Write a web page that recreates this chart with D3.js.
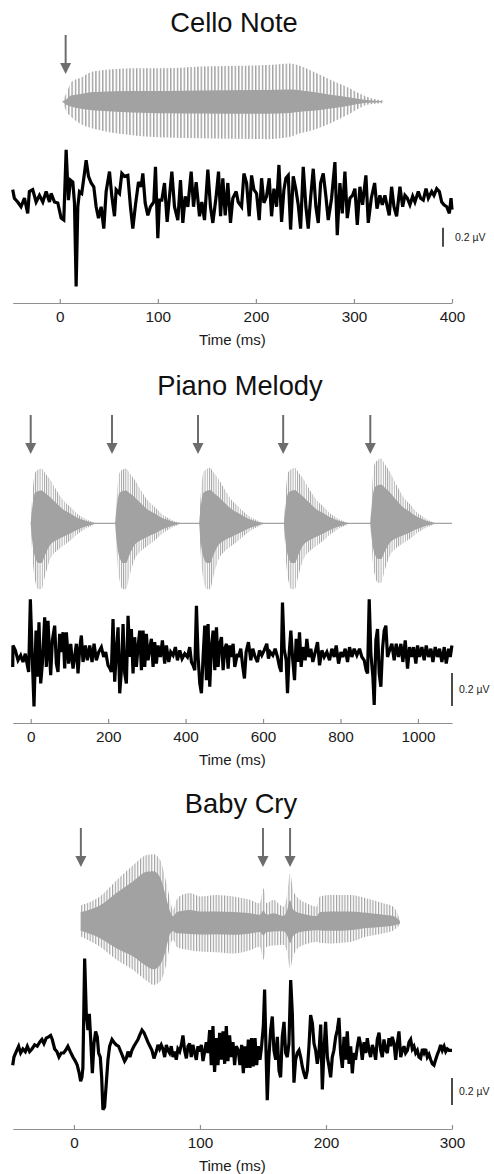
<!DOCTYPE html>
<html>
<head>
<meta charset="utf-8">
<script src="https://cdn.jsdelivr.net/npm/d3@7"></script>
<style>
  body { margin: 0; background: #fff; }
  svg { display: block; font-family: "Liberation Sans", Arial, sans-serif; }
</style>
</head>
<body>
<svg id="chart" width="494" height="1174"></svg>
<script>
// ---------- Cello note ----------
// EEG response: [time ms, amplitude µV]
const celloEeg = [
  [-48,0.13],[-46.3,0.04],[-42.9,0],[-39.5,-0.05],[-36,0.04],[-32.7,-0.12],[-31,0.11],[-27.6,0.13],
  [-24.1,0],[-20.7,0.07],[-17.3,0],[-13.9,0.11],[-10.5,0],[-8.8,0.09],[-5.4,0],[-2,-0.01],
  [1.4,-0.17],[4.1,-0.19],[6.5,0.55],[8.8,0.02],[10.9,0.23],[13.3,0.21],[15,-0.01],[16.7,-0.89],
  [18.4,-0.05],[20.1,0.11],[22.4,0.09],[24.5,0.25],[26.9,0.44],[29.3,0.27],[32,0.2],[34.7,0.16],
  [37.1,-0.05],[39.5,-0.17],[42.2,-0.05],[44.9,-0.28],[47.3,0.11],[50.7,0.32],[53.1,0.06],[55.8,-0.15],
  [57.5,0.13],[60.9,0.09],[63.3,0.3],[66,0.27],[69.4,0.28],[72.1,-0.05],[74.5,-0.28],[77.2,-0.03],
  [80.3,0.21],[83,0.16],[84.7,0.3],[87.1,-0.01],[89.8,-0.14],[92.5,-0.05],[95.9,0],[97.6,0.37],
  [100,-0.38],[101.7,0.02],[104.1,0.02],[106.8,0.2],[109.5,-0.21],[111.9,0.06],[114.3,0.32],[117,-0.05],
  [120.4,-0.19],[123.1,0.23],[125.5,-0.22],[127.9,0.06],[130.6,-0.05],[134,0.32],[136.4,-0.05],[139.1,0.21],
  [142.5,-0.15],[144.9,0],[147.6,-0.19],[151,0.34],[153.7,-0.05],[156.1,-0.22],[159.5,0.06],[161.9,0.32],
  [164,-0.15],[166.3,0.25],[168.7,-0.14],[171.4,0.2],[174.1,-0.22],[176.5,0.04],[179.9,0.11],[182,0],
  [185.4,-0.05],[187.8,0.3],[190.5,0.2],[193.2,-0.15],[195.6,0.28],[198,0.13],[200.7,0.09],[203.4,-0.19],
  [205.8,0.25],[208.2,-0.01],[210.9,0.06],[213.6,0.25],[216,-0.15],[218.4,0.14],[221.1,-0.05],[223.5,0.39],
  [226.2,-0.21],[228.6,0.13],[230.6,0.25],[233,0.28],[235.4,-0.29],[238.1,0.27],[240.8,0.13],[243.2,-0.03],
  [245.6,-0.28],[248.3,0.37],[251,-0.05],[253.4,-0.28],[255.8,0.04],[258.5,0.35],[261.2,-0.05],[263.6,-0.22],
  [266,0.2],[268.7,0.3],[271.4,0.06],[273.8,-0.19],[277.2,0.04],[280.6,0.42],[283,-0.35],[285.7,0.2],
  [288.1,-0.12],[290.8,0.32],[293.2,-0.17],[295.9,0.04],[298.6,0.07],[301,0.14],[303.4,-0.24],[306.1,0.16],
  [308.8,-0.03],[312.2,0.28],[314.6,-0.22],[317.7,0.04],[321.1,0.2],[323.5,-0.07],[326.5,0.07],[328.9,-0.03],
  [331.6,0.07],[334,-0.05],[336,-0.14],[338.4,0.16],[340.8,-0.05],[343.5,-0.15],[346.9,0.16],[349.7,-0.05],
  [352,0.07],[354.4,0.04],[357.1,-0.03],[359.9,0.06],[362.2,0],[365.6,0.11],[368,0.04],[370.7,0.02],
  [373.5,0.14],[375.9,0.04],[379.3,0.11],[381.6,0.07],[384.4,0.14],[387.1,0.11],[389.5,0],[391.8,-0.03],
  [394.6,-0.05],[397.3,-0.12],[399,0.04],[400,-0.08]
];
// Sound envelope: [time ms, upper peak, lower peak] (normalised amplitude)
const celloEnvelope = [
  [3,0.03,-0.03],[7,0.22,-0.26],[12,0.51,-0.4],[20,0.6,-0.55],[33,0.77,-0.68],[41,0.8,-0.73],
  [74,0.86,-0.86],[92,0.86,-0.9],[109,0.86,-0.92],[143,0.9,-0.94],[211,0.94,-0.96],[235,0.98,-0.9],
  [245,0.92,-0.81],[255,0.81,-0.75],[276,0.56,-0.55],[296,0.34,-0.3],[309,0.17,-0.12],[313,0.13,-0.08],
  [329,0.04,-0.04]
];
const celloArrows = [6];
const celloTicks = [0, 100, 200, 300, 400];

// ---------- Piano melody ----------
const pianoEeg = [
  [-46.5,-0.06],[-45.7,0.07],[-39.7,0.04],[-32.8,-0.02],[-25.9,0.01],[-19.9,-0.03],[-13.9,0.02],[-8.7,-0.05],
  [-5.3,-0.09],[-0.9,0.35],[3.4,0.04],[8.5,-0.3],[13.7,0.16],[17.1,-0.12],[21.4,0.21],[25.8,-0.16],
  [30.1,-0.04],[36.1,0.24],[40.4,-0.06],[44.7,0.22],[49,0],[51.6,-0.11],[55.9,0.1],[61.9,0.19],
  [66.2,-0.04],[70.5,-0.09],[74.8,0.14],[79.1,0.03],[83.5,0.15],[87.8,-0.07],[92.1,0.15],[98.1,-0.04],
  [103.3,0.08],[109.3,-0.07],[113.6,0],[117.9,0.08],[122.2,-0.1],[126.5,0.05],[130.8,0.13],[135.1,-0.03],
  [141.1,0.07],[146.3,-0.02],[152.4,0.07],[158.4,-0.03],[163.6,0.08],[169.6,-0.02],[175.6,0.03],[182.5,0.06],
  [188.5,0],[193.7,0.03],[199.7,-0.05],[204.9,-0.07],[208.3,-0.09],[212.6,0.23],[216.9,-0.15],[221.3,0.04],
  [225.6,0.18],[229.9,-0.22],[234.2,-0.08],[238.5,0.2],[242.8,-0.1],[247.1,-0.16],[251.4,0.25],[255.7,0],
  [260,0.17],[264.3,-0.1],[268.6,0.12],[272.9,-0.06],[277.2,0.06],[281.6,0.16],[285.9,-0.08],[290.2,0.16],
  [294.5,-0.06],[298.8,0.14],[303.1,-0.02],[307.4,0.05],[311.7,0.11],[316,-0.06],[320.3,0.09],[324.6,-0.04],
  [328.9,0.07],[334.9,0],[340.1,0.1],[346.1,-0.04],[350.4,0.07],[356.5,-0.03],[361.6,0.03],[367.7,0.01],
  [373.7,0.06],[378.9,-0.02],[384.9,0.04],[390.9,-0.01],[397.8,0.02],[404.7,0],[410.7,0.06],[415.1,-0.03],
  [419.4,-0.05],[423.7,-0.08],[428,0.31],[432.3,0],[436.6,-0.16],[440.9,-0.22],[445.2,0],[449.5,0.19],
  [453.8,-0.14],[458.1,0.2],[462.4,-0.18],[466.7,0.06],[471.1,0.16],[475.4,-0.08],[479.7,0.18],[484,-0.06],
  [488.3,0.08],[492.6,0.12],[496.9,-0.08],[501.2,0.05],[505.5,0.08],[509.8,-0.07],[514.1,0.07],[518.4,0],
  [522.7,0.08],[527,-0.06],[533.9,0.02],[536.6,0],[542.5,0.05],[547.7,-0.06],[552,-0.13],[556.3,0.03],
  [562.3,0.09],[568.4,-0.02],[573.5,0.05],[579.6,0],[585.6,-0.03],[590.8,0.04],[596.8,0.01],[602.8,0.04],
  [609.7,0.08],[614,-0.01],[618.3,0.03],[625.2,0.01],[631.3,0.05],[637.3,0],[642.5,-0.06],[646.8,-0.09],
  [650.2,0.33],[654.5,0.05],[659.7,-0.02],[663.2,-0.22],[667.5,0.02],[671.8,0.16],[676.1,0],[681.3,-0.14],
  [685.6,0.11],[689.9,-0.03],[694.2,0.15],[698.5,-0.06],[702.8,0.06],[708.8,-0.02],[713.1,0.11],[718.3,0],
  [723.5,0.05],[728.6,-0.03],[734.7,0.03],[740.7,0.09],[745.9,-0.05],[751.9,0.04],[757.9,0],[764.8,0.03],
  [771.7,-0.02],[777.7,0.05],[783.8,0],[788.9,0.07],[795,-0.04],[801,0.03],[806.2,0],[812.2,0.05],
  [818.2,-0.03],[823.4,0.06],[829.4,0],[835.4,0.05],[842.3,0.01],[849.2,0.05],[855.2,0],[861.3,-0.02],
  [866.4,-0.08],[869.9,-0.1],[874.2,0.35],[878.5,0.02],[883.7,-0.12],[887.1,-0.29],[891.4,0.1],[895.7,0.17],
  [900,-0.1],[904.3,-0.18],[908.6,0.05],[912.9,0.16],[917.2,0.19],[921.5,0],[926.7,0.04],[932.7,0.08],
  [938.7,-0.02],[943.9,0.08],[949.9,0],[956,0.08],[961.1,-0.03],[967.2,0.1],[973.2,-0.07],[978.4,0.06],
  [984.4,0],[988.7,0.06],[994.7,-0.04],[999,0.07],[1004.2,0],[1010.2,0.06],[1016.2,-0.02],[1021.4,0.07],
  [1027.5,0],[1033.5,0.05],[1038.7,-0.03],[1044.7,0.06],[1050.7,0],[1055.9,0.05],[1061.9,-0.03],[1068,0.06],
  [1073.1,-0.04],[1079.2,0.05],[1083.5,0],[1087.8,0.07]
];
// Decay shape of one note: [ms after onset, upper, lower] (normalised to 1)
const pianoNoteShape = [
  [0,0,0],[4,0.48,-0.45],[11,0.92,-0.85],[20,0.98,-1],[28,1,-1],[37,0.92,-0.8],[50,0.8,-0.55],
  [67,0.6,-0.42],[84,0.42,-0.34],[102,0.3,-0.26],[119,0.18,-0.17],[136,0.1,-0.1],[153,0.04,-0.05],[170,0,0]
];
const pianoNoteOnsets = [0, 218, 435, 654, 877];
const pianoNoteUpper = [0.83, 0.83, 0.84, 0.84, 0.98];
const pianoNoteLower = [1, 1, 1, 1, 0.9];
const pianoArrows = [0, 210, 432, 652, 877];
const pianoTicks = [0, 200, 400, 600, 800, 1000];

// ---------- Baby cry ----------
const babyEeg = [
  [-48.6,-0.09],[-47.6,-0.03],[-45.8,0.01],[-43.9,0.05],[-42.3,0],[-40.5,0.03],[-38.6,0.01],[-37,0.05],
  [-35.2,0.01],[-33.3,0.03],[-31.2,0.06],[-29.1,0.05],[-27.2,0.08],[-25.4,0.1],[-23.8,0.07],[-22,0.11],
  [-20.1,0.12],[-18.5,0.13],[-17.2,0.1],[-15.3,0.03],[-13.5,0.01],[-11.9,-0.03],[-10.1,0],[-8.2,0],
  [-6.6,0.02],[-4.8,0.05],[-2.9,0.01],[-0.8,-0.03],[1.1,-0.06],[2.6,-0.09],[4.2,-0.15],[5.3,-0.21],
  [6.3,-0.18],[7.1,-0.11],[8.5,0.7],[9.8,0.29],[11.1,0.17],[12.2,0.29],[13.2,0.12],[14.6,-0.15],
  [15.9,0.07],[17.2,0.16],[18.5,0.12],[19.6,0],[20.9,-0.03],[22,-0.18],[23,-0.42],[24.3,-0.4],
  [25.7,-0.22],[27,-0.05],[28.3,0.05],[30.2,0.1],[31.7,0.08],[33.6,0.06],[35.4,0.05],[37.6,0],
  [38.9,-0.03],[40.2,-0.06],[41.5,-0.04],[42.9,0.01],[44.4,-0.03],[46,0.02],[47.6,0.05],[49.5,0.08],
  [50.8,0.1],[52.1,0.13],[54,0.17],[55.6,0.15],[57.4,0.11],[58.7,0.08],[60.3,0.05],[61.9,0.02],
  [63.5,-0.04],[65.3,0.01],[66.7,0.06],[68,0.03],[69.3,0.06],[70.6,0.03],[72,-0.03],[73.3,0.06],
  [74.6,0.02],[75.9,0],[77.2,0.05],[78.6,-0.03],[79.9,0.01],[81.2,-0.05],[82.5,0.03],[83.9,0.01],
  [85.2,0.06],[86.5,0.13],[87.8,0.02],[89.2,-0.04],[90.5,0.05],[91.8,0.07],[93.1,-0.03],[94.4,0.06],
  [95.8,0],[97.1,-0.05],[98.4,0.05],[99.7,0.01],[101.1,0.06],[102.4,-0.06],[103.7,0.01],[105,0.08],
  [106.3,0],[107.7,0.17],[109,-0.09],[110.3,0.2],[111.6,-0.14],[113,0.11],[114.3,-0.09],[115.6,0.15],
  [116.9,-0.05],[118.3,0.16],[119.6,-0.08],[120.9,0.2],[122.2,-0.06],[123.5,0.13],[124.9,-0.03],[126.2,0.08],
  [127.5,-0.09],[128.8,0.05],[130.4,0.02],[131.7,-0.09],[133.1,0.06],[134.4,-0.15],[135.7,0.05],[137,-0.11],
  [138.4,0.1],[139.7,-0.11],[141,0.11],[142.3,-0.1],[143.7,0.11],[145,-0.09],[146.3,0.05],[147.6,-0.05],
  [148.9,0.05],[150.3,0.2],[151.3,0.47],[152.4,0.02],[153.4,-0.35],[154.7,-0.03],[156.1,0.17],[157.4,0.27],
  [158.7,0.02],[160.1,-0.05],[161.4,0.12],[162.7,-0.13],[164,-0.18],[165.3,0.12],[166.7,0.23],[168,0],
  [169.3,-0.03],[170.6,0.07],[172,0.54],[173.3,0.29],[174.6,-0.22],[175.9,-0.05],[177.2,0],[178.6,0.02],
  [179.9,-0.03],[181.2,-0.1],[182.5,-0.15],[183.9,-0.19],[185.2,-0.13],[186.5,0.05],[187.8,0.28],[189.2,0.22],
  [190.5,0.07],[191.8,0.02],[193.1,-0.08],[194.4,0],[195.8,0.21],[197.1,-0.27],[198.4,0.02],[199.7,0.23],
  [201.1,-0.03],[202.4,-0.1],[203.7,-0.18],[205,-0.03],[206.3,0.02],[207.7,0.12],[209,0.17],[210.3,0.26],
  [211.6,0],[213,-0.11],[214.3,0.12],[215.6,-0.05],[216.9,0.16],[218.3,-0.08],[219.6,0.05],[220.9,-0.15],
  [222.2,0],[223.5,-0.05],[224.9,0.05],[226.2,0.12],[227.5,0.06],[228.8,-0.05],[230.2,0.08],[231.5,0],
  [232.8,0.11],[234.1,0.02],[235.4,-0.03],[236.8,0.06],[238.1,0.02],[239.4,-0.05],[240.7,0.1],[242.1,0.15],
  [243.4,0.02],[244.7,-0.03],[246,0.1],[247.4,0.02],[248.7,0],[250,0.11],[251.3,0.05],[252.6,0.12],
  [254,0.07],[255.3,-0.05],[256.6,0.07],[257.9,0.16],[259.3,-0.03],[260.6,0.02],[261.9,0.05],[263.2,0],
  [264.6,0.02],[265.9,0.08],[267.2,0.1],[268.5,0.03],[269.8,0.05],[271.2,0],[272.5,0.02],[273.8,-0.03],
  [275.1,-0.04],[276.5,0.03],[277.8,0],[279.1,0.03],[280.4,-0.03],[281.7,-0.01],[283.1,-0.05],[284.4,-0.08],
  [285.7,-0.09],[287,-0.05],[288.4,-0.01],[289.7,0.02],[291,0.06],[292.3,0.02],[293.7,0.05],[295,0.01],
  [296.3,0.03],[297.6,0.02],[298.9,0.02],[300,0.02]
];
// [time ms, upper peak, lower peak, solid-core fraction]
const babyEnvelope = [
  [5.3,0.25,-0.21,0.6],[20.6,0.38,-0.36,0.65],[33.9,0.62,-0.55,0.7],[47,0.84,-0.7,0.72],[57.7,0.99,-0.86,0.75],
  [63,1,-0.92,0.75],[68.3,0.92,-0.87,0.72],[72.2,0.67,-0.7,0.65],[74.9,0.45,-0.46,0.55],[76.2,0.33,-0.34,0.5],
  [78.8,0.18,-0.26,0.5],[81.5,0.33,-0.36,0.45],[85.5,0.4,-0.39,0.42],[92,0.43,-0.41,0.42],[100,0.38,-0.43,0.42],
  [113.2,0.4,-0.44,0.4],[126.5,0.38,-0.46,0.4],[139.7,0.33,-0.41,0.4],[147.6,0.28,-0.36,0.4],[150.3,0.5,-0.55,0.35],
  [152.9,0.28,-0.36,0.4],[158.2,0.33,-0.34,0.4],[166.1,0.23,-0.33,0.4],[169.3,0.41,-0.45,0.45],[171.4,0.72,-0.68,0.45],
  [174,0.47,-0.5,0.4],[176.7,0.38,-0.4,0.4],[179.4,0.33,-0.36,0.4],[184.7,0.28,-0.32,0.4],[192.6,0.23,-0.29,0.4],
  [195.2,0.38,-0.3,0.4],[203.2,0.4,-0.31,0.4],[219,0.4,-0.29,0.4],[232.3,0.35,-0.21,0.4],[245.5,0.28,-0.16,0.4],
  [253.4,0.23,-0.12,0.4],[258.7,0.04,-0.04,0.5]
];
const babyArrows = [5.5, 150, 171.5];
const babyTicks = [0, 100, 200, 300];

const scaleBarValue = 0.2;   // µV
const scaleBarLabel = "0.2 µV";

// Piano envelope table built from the note shape, onsets and per-note peaks
const pianoEnvelope = [];
pianoNoteOnsets.forEach((on, i) => {
  pianoNoteShape.forEach(([dt, up, lo]) => {
    pianoEnvelope.push([on + dt, up * pianoNoteUpper[i], lo * pianoNoteLower[i]]);
  });
});

// ---------- layout ----------
const panels = [
  { id: "cello", title: "Cello Note", titleX: 234, titleY: 32, domain: [-48, 400], ticks: celloTicks,
    axisY: 303, arrowTop: 35, arrowTip: 74, audioY: 101.7, audioH: 39, core: 0.32, hatch: 3.4,
    eegY: 202, eegK: 95, barX: 443, barBase: -0.47, labelX: 455,
    eeg: celloEeg, env: celloEnvelope, arrows: celloArrows, flat: null },
  { id: "piano", title: "Piano Melody", titleX: 240, titleY: 395, domain: [-46.5, 1088], ticks: pianoTicks,
    axisY: 723, arrowTop: 415, arrowTip: 454, audioY: 523.3, audioH: 66, core: 0.6, hatch: 2.2,
    eegY: 657, eegK: 165, barX: 452, barBase: -0.297, labelX: 459,
    eeg: pianoEeg, env: pianoEnvelope, arrows: pianoArrows, flat: [pianoNoteOnsets[0], 1088] },
  { id: "baby", title: "Baby Cry", titleX: 241, titleY: 813, domain: [-48.6, 300], ticks: babyTicks,
    axisY: 1129, arrowTop: 828, arrowTip: 867, audioY: 922.3, audioH: 68, core: 0.5, hatch: 2.8,
    eegY: 1053, eegK: 135, barX: 452, barBase: -0.385, labelX: 459,
    eeg: babyEeg, env: babyEnvelope, arrows: babyArrows, flat: null }
];

const svg = d3.select("#chart");
const defs = svg.append("defs");
const audioGrey = "#a2a2a2";
const arrowGrey = "#6d6d6d";
const xRange = [12.7, 452];

panels.forEach(p => {
  const x = d3.scaleLinear().domain(p.domain).range(xRange);
  const ya = d3.scaleLinear().domain([-1, 1]).range([p.audioY + p.audioH, p.audioY - p.audioH]);
  const ye = d3.scaleLinear().domain([0, 1]).range([p.eegY, p.eegY - p.eegK]);
  const g = svg.append("g");

  // vertical-stroke texture for the oscillation peaks
  const pat = defs.append("pattern").attr("id", "hatch-" + p.id)
    .attr("patternUnits", "userSpaceOnUse").attr("width", p.hatch).attr("height", 8);
  pat.append("rect").attr("x", 0).attr("y", 0).attr("width", p.hatch * 0.42).attr("height", 8)
    .attr("fill", audioGrey);

  // title
  g.append("text").attr("x", p.titleX).attr("y", p.titleY).attr("text-anchor", "middle")
    .attr("font-size", 27.3).attr("fill", "#111").text(p.title);

  // flat silence line between notes
  if (p.flat) {
    g.append("line").attr("x1", x(p.flat[0])).attr("x2", x(p.flat[1]))
      .attr("y1", ya(0)).attr("y2", ya(0)).attr("stroke", audioGrey).attr("stroke-width", 1.2);
  }

  // sound waveform: peak envelope (textured) and solid core
  const outer = d3.area().x(d => x(d[0])).y0(d => ya(d[2])).y1(d => ya(d[1])).curve(d3.curveMonotoneX);
  const coreArea = d3.area().x(d => x(d[0]))
    .y0(d => ya(d[2] * (d[3] ?? p.core))).y1(d => ya(d[1] * (d[3] ?? p.core))).curve(d3.curveMonotoneX);
  const segments = p.id === "piano"
    ? pianoNoteOnsets.map((_, i) => p.env.slice(i * pianoNoteShape.length, (i + 1) * pianoNoteShape.length))
    : [p.env];
  segments.forEach(seg => {
    g.append("path").attr("d", outer(seg)).attr("fill", `url(#hatch-${p.id})`);
    g.append("path").attr("d", coreArea(seg)).attr("fill", audioGrey);
  });

  // stimulus-onset arrows
  p.arrows.forEach(t => {
    const ax = x(t);
    g.append("line").attr("x1", ax).attr("x2", ax).attr("y1", p.arrowTop).attr("y2", p.arrowTip - 9)
      .attr("stroke", arrowGrey).attr("stroke-width", 2);
    g.append("path")
      .attr("d", `M${ax - 5.5},${p.arrowTip - 11}L${ax + 5.5},${p.arrowTip - 11}L${ax},${p.arrowTip}Z`)
      .attr("fill", arrowGrey);
  });

  // EEG trace
  const line = d3.line().x(d => x(d[0])).y(d => ye(d[1]));
  g.append("path").attr("d", line(p.eeg)).attr("fill", "none").attr("stroke", "#000")
    .attr("stroke-width", 3.2).attr("stroke-linejoin", "miter").attr("stroke-miterlimit", 3);

  // amplitude scale bar
  g.append("line").attr("x1", p.barX).attr("x2", p.barX)
    .attr("y1", ye(p.barBase)).attr("y2", ye(p.barBase + scaleBarValue))
    .attr("stroke", "#111").attr("stroke-width", 1.5);
  g.append("text").attr("x", p.labelX).attr("y", (ye(p.barBase) + ye(p.barBase + scaleBarValue)) / 2)
    .attr("dy", "0.35em").attr("font-size", 10.5).attr("fill", "#222").text(scaleBarLabel);

  // time axis
  const axis = d3.axisBottom(x).tickValues(p.ticks).tickFormat(d3.format("d"))
    .tickSizeInner(-4).tickSizeOuter(0).tickPadding(8);
  const ag = g.append("g").attr("transform", `translate(0,${p.axisY})`).call(axis);
  ag.select(".domain").attr("stroke", "#8f8f8f").attr("stroke-width", 1.2);
  ag.selectAll(".tick line").attr("stroke", "#8f8f8f").attr("stroke-width", 1.2);
  ag.selectAll(".tick text").attr("font-size", 15.3).attr("fill", "#1a1a1a")
    .attr("font-family", "Liberation Sans, Arial, sans-serif");
  g.append("text").attr("x", (xRange[0] + xRange[1]) / 2).attr("y", p.axisY + 42)
    .attr("text-anchor", "middle").attr("font-size", 15).attr("fill", "#1a1a1a").text("Time (ms)");
});
</script>
</body>
</html>
